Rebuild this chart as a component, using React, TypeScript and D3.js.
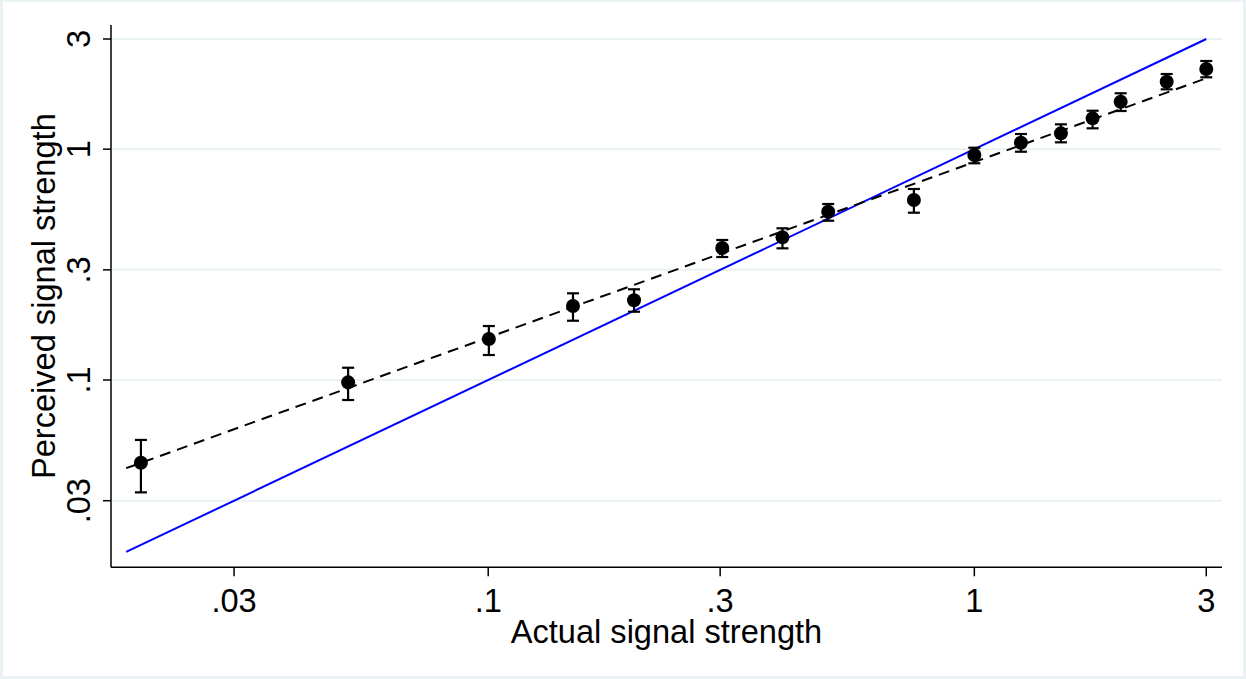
import * as d3 from 'd3'

// values
const actual = [0.0193, 0.0515, 0.1003, 0.1494, 0.1995, 0.303, 0.403, 0.5005, 0.751, 1.0, 1.247, 1.507, 1.751, 2.0, 2.487, 3.0]
const perceived = [0.0438, 0.0977, 0.1505, 0.2092, 0.2214, 0.3729, 0.415, 0.5358, 0.6022, 0.9432, 1.0664, 1.171, 1.36, 1.605, 1.959, 2.224]
const ciLow = [0.0326, 0.0819, 0.1283, 0.1806, 0.1976, 0.341, 0.3719, 0.4898, 0.5305, 0.8685, 0.9748, 1.0705, 1.231, 1.463, 1.816, 2.048]
const ciHigh = [0.055, 0.113, 0.1713, 0.2374, 0.2471, 0.4041, 0.4541, 0.5786, 0.6721, 1.0143, 1.163, 1.281, 1.467, 1.746, 2.116, 2.409]

const fitX = [0.018, 3]
const fitY = [0.0415, 2.027]
const identityX = [0.018, 3]

const tickValues = [0.03, 0.1, 0.3, 1, 3]
const tickLabels = ['.03', '.1', '.3', '1', '3']

const W = 1246
const H = 679
const PLOT = { left: 111, right: 1222, top: 25, bottom: 567.3 }
const X_DOMAIN: [number, number] = [0.01675, 3.232]
const Y_DOMAIN: [number, number] = [0.01544, 3.45]

const FONT = "'Liberation Sans', Arial, sans-serif"
const FONT_SIZE = 32.6
const FRAME = '#EAF2F3'
const GRID = '#EAF2F3'
const BLUE = '#0000FF'

export default function App() {
  const x = d3.scaleLog().domain(X_DOMAIN).range([PLOT.left, PLOT.right])
  const y = d3.scaleLog().domain(Y_DOMAIN).range([PLOT.bottom, PLOT.top])

  const line = d3
    .line<[number, number]>()
    .x((d) => x(d[0]))
    .y((d) => y(d[1]))

  const fitPts = fitX.map((v, i) => [v, fitY[i]] as [number, number])
  const idPts = identityX.map((v) => [v, v] as [number, number])

  return (
    <div style={{ position: 'absolute', left: 0, top: 0 }}>
      <svg width={W} height={H} style={{ display: 'block' }} fontFamily={FONT}>
        <rect x={0} y={0} width={W} height={H} fill={FRAME} />
        <rect x={3} y={2} width={W - 6} height={H - 5} fill="#fff" />

        {/* gridlines */}
        {tickValues.map((t) => (
          <line key={'g' + t} x1={PLOT.left} x2={PLOT.right} y1={y(t)} y2={y(t)} stroke={GRID} strokeWidth={2} />
        ))}

        {/* 45 degree line */}
        <path d={line(idPts) ?? ''} fill="none" stroke={BLUE} strokeWidth={2} />

        {/* fitted line */}
        <path d={line(fitPts) ?? ''} fill="none" stroke="#000" strokeWidth={2} strokeDasharray="11,7" />

        {/* error bars + markers */}
        {actual.map((a, i) => {
          const cx = x(a)
          return (
            <g key={'p' + i}>
              <line x1={cx} x2={cx} y1={y(ciLow[i])} y2={y(ciHigh[i])} stroke="#000" strokeWidth={2.2} />
              <line x1={cx - 6} x2={cx + 6} y1={y(ciLow[i])} y2={y(ciLow[i])} stroke="#000" strokeWidth={2.2} />
              <line x1={cx - 6} x2={cx + 6} y1={y(ciHigh[i])} y2={y(ciHigh[i])} stroke="#000" strokeWidth={2.2} />
              <circle cx={cx} cy={y(perceived[i])} r={7} fill="#000" />
            </g>
          )
        })}

        {/* axes */}
        <line x1={PLOT.left} x2={PLOT.left} y1={PLOT.top} y2={PLOT.bottom} stroke="#000" strokeWidth={1.5} />
        <line x1={PLOT.left} x2={PLOT.right} y1={PLOT.bottom} y2={PLOT.bottom} stroke="#000" strokeWidth={1.5} />

        {tickValues.map((t, i) => (
          <g key={'x' + t}>
            <line x1={x(t)} x2={x(t)} y1={PLOT.bottom} y2={PLOT.bottom + 9} stroke="#000" strokeWidth={1.5} />
            <text x={x(t)} y={612} textAnchor="middle" fontSize={FONT_SIZE} fill="#000">
              {tickLabels[i]}
            </text>
          </g>
        ))}

        {tickValues.map((t, i) => (
          <g key={'y' + t}>
            <line x1={PLOT.left - 8} x2={PLOT.left} y1={y(t)} y2={y(t)} stroke="#000" strokeWidth={1.5} />
            <text
              transform={`translate(90,${y(t)}) rotate(-90)`}
              textAnchor="middle"
              fontSize={FONT_SIZE}
              fill="#000"
            >
              {tickLabels[i]}
            </text>
          </g>
        ))}

        <text x={(PLOT.left + PLOT.right) / 2} y={643} textAnchor="middle" fontSize={FONT_SIZE} fill="#000">
          Actual signal strength
        </text>
        <text
          transform={`translate(55,${(PLOT.top + PLOT.bottom) / 2}) rotate(-90)`}
          textAnchor="middle"
          fontSize={FONT_SIZE}
          fill="#000"
        >
          Perceived signal strength
        </text>
      </svg>
    </div>
  )
}
